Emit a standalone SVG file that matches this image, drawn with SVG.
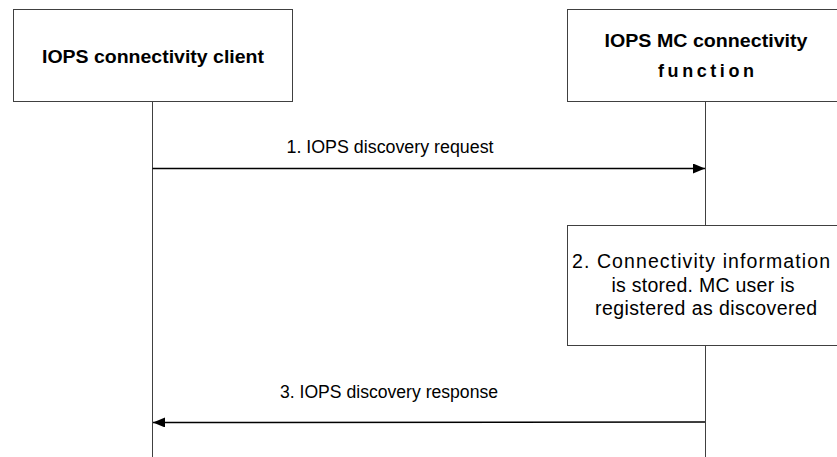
<svg xmlns="http://www.w3.org/2000/svg" width="837" height="457" viewBox="0 0 837 457">
<defs>
<style>
.box{fill:#fff;stroke:#404040;stroke-width:1}
.life{stroke:#404040;stroke-width:1;fill:none}
.msg{stroke:#000;stroke-width:1.5;fill:none}
.t{font-family:"Liberation Sans",Arial,sans-serif;font-size:18px;fill:#000;text-anchor:middle}
.s{font-size:19.5px}
.b{font-weight:bold}
</style>
<marker id="ah" markerWidth="12" markerHeight="10" refX="12" refY="5" orient="auto" markerUnits="userSpaceOnUse">
<path d="M0,0 L12,5 L0,10 Z" fill="#000"/>
</marker>
</defs>
<g id="lifelines">
<line class="life" x1="152.5" y1="101" x2="152.5" y2="457"/>
<line class="life" x1="705.5" y1="101" x2="705.5" y2="225"/>
<line class="life" x1="705.5" y1="345" x2="705.5" y2="457"/>
</g>
<g id="client">
<rect class="box" x="13.5" y="9.5" width="279" height="92"/>
<text class="t b" x="153" y="63" textLength="222" lengthAdjust="spacingAndGlyphs">IOPS connectivity client</text>
</g>
<g id="function">
<rect class="box" x="567.5" y="9.5" width="280" height="92"/>
<text class="t b" x="706" y="47" textLength="203" lengthAdjust="spacingAndGlyphs">IOPS MC connectivity</text>
<text class="t b" x="706" y="77" textLength="96" lengthAdjust="spacing">function</text>
</g>
<g id="step2">
<rect class="box" x="567.5" y="225.5" width="280" height="120"/>
<text class="t s" x="701" y="268" textLength="258" lengthAdjust="spacing">2. Connectivity information</text>
<text class="t s" x="703" y="292" textLength="183" lengthAdjust="spacing">is stored. MC user is</text>
<text class="t s" x="706" y="315" textLength="222" lengthAdjust="spacing">registered as discovered</text>
</g>
<g id="connectors">
<line class="msg" x1="152.5" y1="168.5" x2="705" y2="168.5" marker-end="url(#ah)"/>
<text class="t" x="390" y="153" textLength="207" lengthAdjust="spacingAndGlyphs">1. IOPS discovery request</text>
<line class="msg" x1="705" y1="422" x2="153" y2="422.5" marker-end="url(#ah)"/>
<text class="t" x="389" y="398" textLength="218" lengthAdjust="spacingAndGlyphs">3. IOPS discovery response</text>
</g>
</svg>
